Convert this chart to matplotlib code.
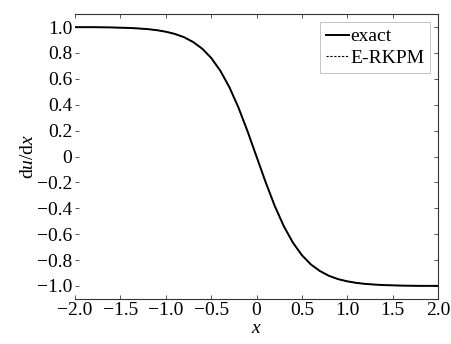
import matplotlib
matplotlib.use("Agg")
import matplotlib.pyplot as plt

# values
x = [-2.0, -1.9, -1.8, -1.7, -1.6, -1.5, -1.4, -1.3, -1.2, -1.1, -1.0,
     -0.9, -0.8, -0.7, -0.6, -0.5, -0.4, -0.3, -0.2, -0.1, 0.0,
     0.1, 0.2, 0.3, 0.4, 0.5, 0.6, 0.7, 0.8, 0.9, 1.0,
     1.1, 1.2, 1.3, 1.4, 1.5, 1.6, 1.7, 1.8, 1.9, 2.0]
exact = [0.999, 0.999, 0.999, 0.998, 0.997, 0.995, 0.993, 0.989, 0.984, 0.976, 0.964,
         0.947, 0.922, 0.885, 0.834, 0.762, 0.664, 0.537, 0.380, 0.197, 0.0,
         -0.197, -0.380, -0.537, -0.664, -0.762, -0.834, -0.885, -0.922, -0.947, -0.964,
         -0.976, -0.984, -0.989, -0.993, -0.995, -0.997, -0.998, -0.999, -0.999, -0.999]
erkpm = list(exact)

xticks = [-2.0, -1.5, -1.0, -0.5, 0.0, 0.5, 1.0, 1.5, 2.0]
xlabels = ["\u22122.0", "\u22121.5", "\u22121.0", "\u22120.5", "0", "0.5", "1.0", "1.5", "2.0"]
yticks = [1.0, 0.8, 0.6, 0.4, 0.2, 0.0, -0.2, -0.4, -0.6, -0.8, -1.0]
ylabels = ["1.0", "0.8", "0.6", "0.4", "0.2", "0", "\u22120.2", "\u22120.4",
           "\u22120.6", "\u22120.8", "\u22121.0"]

plt.rcParams['font.family'] = ['Liberation Serif', 'DejaVu Serif']
plt.rcParams['mathtext.fontset'] = 'custom'
plt.rcParams['mathtext.rm'] = 'Liberation Serif'
plt.rcParams['mathtext.it'] = 'Liberation Serif:italic'
plt.rcParams['font.size'] = 14

fig = plt.figure(figsize=(4.52, 3.44), dpi=100)
ax = fig.add_axes([0.166, 0.131, 0.803, 0.828])

ax.plot(x, exact, color='black', lw=1.4, label='exact')
ax.plot(x, erkpm, color='black', lw=0.8, ls=(0, (2, 1.5)), label='E-RKPM')

ax.set_xlim(-2.0, 2.0)
ax.set_ylim(-1.1, 1.1)
ax.set_xticks(xticks)
ax.set_xticklabels(xlabels)
ax.set_yticks(yticks)
ax.set_yticklabels(ylabels)
ax.tick_params(direction='in', top=True, right=True, length=3, width=0.7,
               colors='#555555', labelcolor='black', labelsize=14)
ax.tick_params(axis='y', pad=2)
ax.tick_params(axis='x', pad=2)
ax.spines['left'].set_visible(False)
for s in ['top', 'right', 'bottom']:
    ax.spines[s].set_linewidth(0.8)
    ax.spines[s].set_color('#333333')

ax.set_xlabel('$x$', labelpad=1)
ax.set_ylabel('d$u$/d$x$', labelpad=0)

leg = ax.legend(loc='upper right', handlelength=1.2, handletextpad=0.05,
                borderpad=0.3, labelspacing=0.2, fancybox=False,
                framealpha=1, borderaxespad=0.4, fontsize=14)
leg.get_frame().set_edgecolor('#bbbbbb')
leg.get_frame().set_linewidth(0.6)

fig.savefig('out.png', dpi=100)
